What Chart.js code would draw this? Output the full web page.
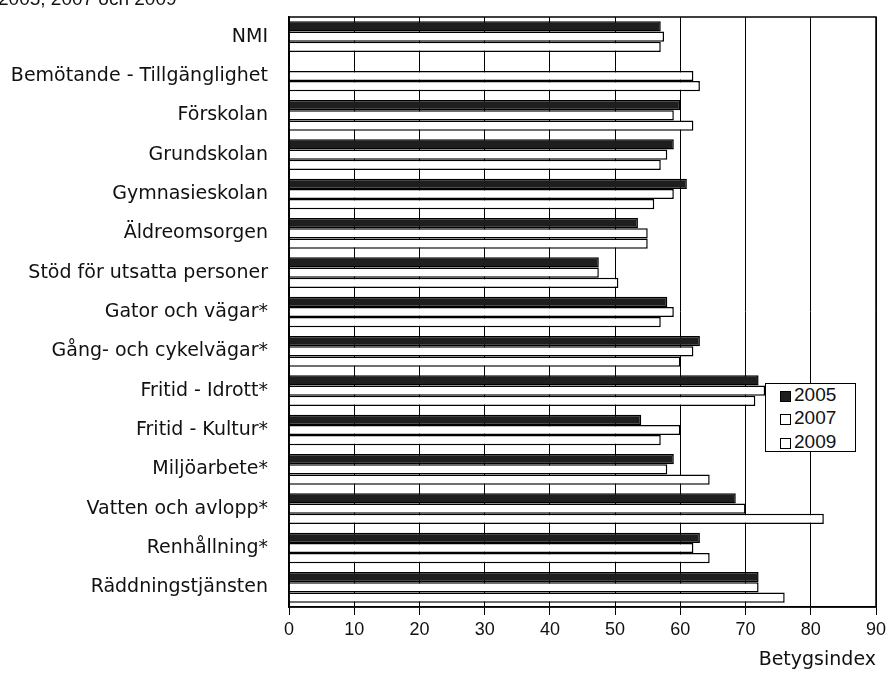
<!DOCTYPE html>
<html>
<head>
<meta charset="utf-8">
<script src="https://cdn.jsdelivr.net/npm/chart.js@4.4.1/dist/chart.umd.min.js"></script>
<style>
  body { margin: 0; background: #fff; }
  #wrap { position: relative; width: 895px; height: 674px; overflow: hidden; }
  #chart { display: block; }
  #topText {
    position: absolute; left: -2px; top: -11px;
    font: 19px "Liberation Sans", Arial, sans-serif; line-height: 20px; color: #111;
    white-space: nowrap;
  }
  #legend {
    position: absolute; left: 765px; top: 383px; width: 91px; height: 69px;
    border: 1px solid #000; background: #fff; box-sizing: border-box;
    font: 19px "Liberation Sans", Arial, sans-serif; color: #111;
  }
  .item { position: absolute; left: 14px; height: 20px; line-height: 20px; white-space: nowrap; }
  .swatch {
    display: inline-block; width: 11px; height: 11px; border: 1px solid #000;
    box-sizing: border-box; margin-right: 3px; vertical-align: -1px; background: #fff;
  }
</style>
</head>
<body>
<div id="wrap">
  <canvas id="chart" width="895" height="674"></canvas>
  <div id="topText">2005, 2007 och 2009</div>
  <div id="legend"></div>
</div>
<script>
// Categories, top to bottom
const categories = [
    'NMI',
    'Bemötande - Tillgänglighet',
    'Förskolan',
    'Grundskolan',
    'Gymnasieskolan',
    'Äldreomsorgen',
    'Stöd för utsatta personer',
    'Gator och vägar*',
    'Gång- och cykelvägar*',
    'Fritid - Idrott*',
    'Fritid - Kultur*',
    'Miljöarbete*',
    'Vatten och avlopp*',
    'Renhållning*',
    'Räddningstjänsten'
];

// Betygsindex per year
const values2005 = [57, null, 60, 59, 61, 53.5, 47.5, 58, 63, 72, 54, 59, 68.5, 63, 72];
const values2007 = [57.5, 62, 59, 58, 59, 55, 47.5, 59, 62, 73, 60, 58, 70, 62, 72];
const values2009 = [57, 63, 62, 57, 56, 55, 50.5, 57, 60, 71.5, 57, 64.5, 82, 64.5, 76];

const seriesNames = ['2005', '2007', '2009'];
const xTicks = [0, 10, 20, 30, 40, 50, 60, 70, 80, 90];

const darkFill = '#1e1e1e';
const lightFill = '#ffffff';

// Border round the whole plot area
const plotBorder = {
    id: 'plotBorder',
    afterDatasetsDraw(chart) {
        const { ctx, chartArea } = chart;
        ctx.save();
        ctx.strokeStyle = '#000';
        ctx.lineWidth = 1.5;
        ctx.strokeRect(chartArea.left, chartArea.top, chartArea.right - chartArea.left, chartArea.bottom - chartArea.top);
        ctx.restore();
    }
};

function makeDataset(label, data, fill) {
    return {
        label: label,
        data: data,
        backgroundColor: fill,
        borderColor: '#000',
        borderWidth: 1.5,
        borderSkipped: 'start',
        categoryPercentage: 0.78,
        barPercentage: 1.0
    };
}

const ctx = document.getElementById('chart').getContext('2d');
new Chart(ctx, {
    type: 'bar',
    data: {
        labels: categories,
        datasets: [
            makeDataset(seriesNames[0], values2005, darkFill),
            makeDataset(seriesNames[1], values2007, lightFill),
            makeDataset(seriesNames[2], values2009, lightFill)
        ]
    },
    options: {
        indexAxis: 'y',
        responsive: false,
        animation: false,
        devicePixelRatio: 1,
        layout: { padding: { top: 17, right: 19, left: 0, bottom: 0 } },
        plugins: {
            legend: { display: false },
            tooltip: { enabled: false }
        },
        scales: {
            y: {
                grid: { display: false },
                border: { display: true, color: '#000', width: 1.5 },
                ticks: {
                    color: '#111',
                    autoSkip: false,
                    padding: 13,
                    font: { family: '"DejaVu Sans"', size: 19 }
                },
                afterFit(scale) {
                    scale.width = 289;
                    scale.paddingTop = 0;
                    scale.paddingBottom = 0;
                }
            },
            x: {
                min: 0,
                max: 90,
                afterBuildTicks(scale) { scale.ticks = xTicks.map(v => ({ value: v })); },
                grid: {
                    color: '#000',
                    lineWidth: 1,
                    drawTicks: true,
                    tickLength: 8,
                    tickColor: '#000'
                },
                border: { display: true, color: '#000', width: 1.5 },
                ticks: {
                    color: '#111',
                    padding: 4,
                    autoSkip: false,
                    maxRotation: 0,
                    font: { family: '"Liberation Sans", Arial', size: 18 }
                },
                title: {
                    display: true,
                    text: 'Betygsindex',
                    align: 'end',
                    color: '#111',
                    padding: { top: 0, bottom: 3 },
                    font: { family: '"DejaVu Sans"', size: 19 }
                },
                afterFit(scale) { scale.height = 67; }
            }
        }
    },
    plugins: [plotBorder]
});

// Legend drawn on top of the plot, as in the original
const legendBox = document.getElementById('legend');
const legendFills = [darkFill, lightFill, lightFill];
const legendTops = [1, 24, 48];
seriesNames.forEach((name, i) => {
    const item = document.createElement('div');
    item.className = 'item';
    item.style.top = legendTops[i] + 'px';
    const sw = document.createElement('span');
    sw.className = 'swatch';
    sw.style.background = legendFills[i];
    item.appendChild(sw);
    item.appendChild(document.createTextNode(name));
    legendBox.appendChild(item);
});
</script>
</body>
</html>
